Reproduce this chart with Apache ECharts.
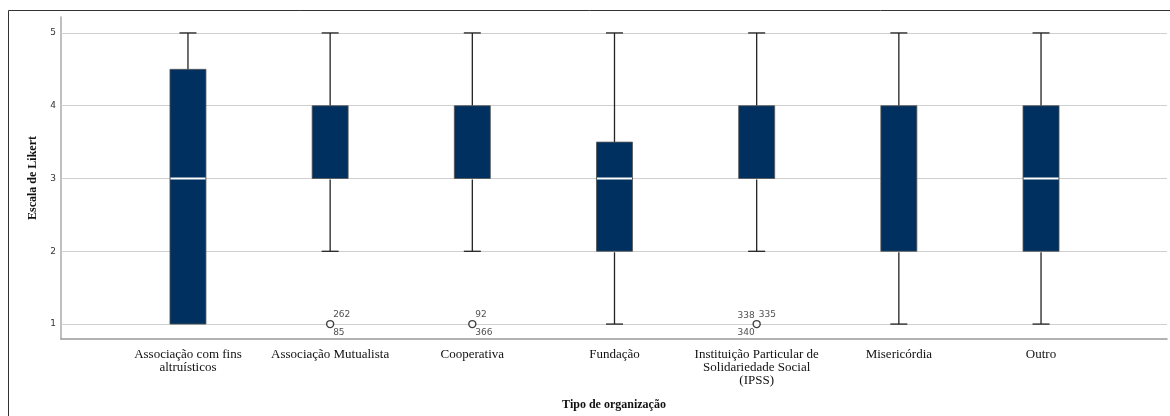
<!DOCTYPE html>
<html><head><meta charset="utf-8">
<script src="https://cdn.jsdelivr.net/npm/echarts@6/dist/echarts.min.js"></script>
<style>html,body{margin:0;padding:0;background:#fff}#c{width:1170px;height:416px}</style>
</head><body><div id="c"></div>
<script>
const categories = ['Associação com fins\naltruísticos','Associação Mutualista','Cooperativa','Fundação','Instituição Particular de\nSolidariedade Social\n(IPSS)','Misericórdia','Outro'];
// [min, Q1, median, Q3, max]
const boxMin    = [1, 2, 2, 1, 2, 1, 1];
const boxQ1     = [1, 3, 3, 2, 3, 2, 2];
const boxMedian = [3, 3, 4, 3, 3, 4, 3];
const boxQ3     = [4.5, 4, 4, 3.5, 4, 4, 4];
const boxMax    = [5, 5, 5, 5, 5, 5, 5];
const yTicks = [1, 2, 3, 4, 5];
// outliers: category index, value, case ids
const outlierCat = [1, 2, 4];
const outlierVal = [1, 1, 1];
const outlierIds = [['262','85'], ['92','366'], ['338','335','340']];

const boxData = categories.map((c, i) => [i, boxMin[i], boxQ1[i], boxMedian[i], boxQ3[i], boxMax[i]]);
const xIdx = categories.map((c, i) => i);

const slots2 = [{align:'left', off:[3,-9]}, {align:'left', off:[3,9]}];
const slots3 = [{align:'right', off:[-2,-8]}, {align:'left', off:[2,-9]}, {align:'right', off:[-2,9]}];
const labelData = [];
outlierCat.forEach((c, k) => {
  const ids = outlierIds[k];
  const slots = ids.length === 3 ? slots3 : slots2;
  ids.forEach((id, j) => {
    labelData.push({value:[c, outlierVal[k]], name:id,
      label:{formatter:id, align:slots[j].align, offset:slots[j].off}});
  });
});

const chart = echarts.init(document.getElementById('c'));
const serif = '"Liberation Serif","Times New Roman",serif';
chart.setOption({
  animation:false,
  graphic:[{type:'rect', shape:{x:8.5, y:10.5, width:1200, height:500}, style:{fill:'none', stroke:'#333', lineWidth:1}, z:-10}],
  grid:{left:61, right:3, top:17, bottom:76},
  xAxis:{type:'value', min:-0.893, max:6.886,
    axisLine:{show:true, onZero:false, lineStyle:{color:'#999', width:1.5}},
    axisTick:{show:false}, splitLine:{show:false},
    axisLabel:{customValues:xIdx, formatter:(v)=>categories[Math.round(v)]||'', color:'#111', fontFamily:serif, fontSize:13, lineHeight:13, margin:9},
    name:'Tipo de organização', nameLocation:'middle', nameGap:60,
    nameTextStyle:{fontFamily:serif, fontWeight:'bold', fontSize:12, color:'#111'}},
  yAxis:{type:'value', min:0.795, max:5.219,
    axisLine:{show:true, onZero:false, lineStyle:{color:'#aaa', width:1.5}},
    axisTick:{show:false}, splitLine:{show:false},
    axisLabel:{customValues:yTicks, color:'#333', fontFamily:'"DejaVu Sans",sans-serif', fontSize:9, margin:5},
    name:'Escala de Likert', nameLocation:'middle', nameGap:21, nameRotate:90,
    nameTextStyle:{fontFamily:serif, fontWeight:'bold', fontSize:12, color:'#111'}},
  series:[
    {type:'line', data:[], z:1,
      markLine:{silent:true, symbol:'none', label:{show:false}, animation:false, z:1,
        lineStyle:{color:'#cfcfcf', width:1, type:'solid'},
        data: yTicks.map(v => ({yAxis:v}))}},
    {type:'custom', data:boxData, encode:{x:0, y:[1,2,3,4,5]}, z:6,
      renderItem:function(params, api){
        const x = api.value(0);
        const mn = api.value(1), q1 = api.value(2), md = api.value(3), q3 = api.value(4), mx = api.value(5);
        const cx = api.coord([x, 0])[0];
        const y = v => api.coord([x, v])[1];
        const bw = 36, cw = 17;
        const wl = {stroke:'#222', lineWidth:1.3};
        const ch = [];
        if (mx > q3) {
          ch.push({type:'line', shape:{x1:cx, y1:y(mx), x2:cx, y2:y(q3)}, style:wl});
          ch.push({type:'line', shape:{x1:cx-cw/2, y1:y(mx), x2:cx+cw/2, y2:y(mx)}, style:wl});
        }
        if (mn < q1) {
          ch.push({type:'line', shape:{x1:cx, y1:y(q1)+1, x2:cx, y2:y(mn)}, style:wl});
          ch.push({type:'line', shape:{x1:cx-cw/2, y1:y(mn), x2:cx+cw/2, y2:y(mn)}, style:wl});
        }
        ch.push({type:'rect', shape:{x:cx-bw/2, y:y(q3), width:bw, height:y(q1)-y(q3)},
          style:{fill:'#00305f', stroke:'#555', lineWidth:0.8}});
        if (md > q1 && md < q3) {
          ch.push({type:'line', shape:{x1:cx-bw/2+0.5, y1:y(md), x2:cx+bw/2-0.5, y2:y(md)}, style:{stroke:'#fff', lineWidth:2}});
        }
        return {type:'group', children:ch};
      }},
    {type:'scatter', data:outlierCat.map((c,k)=>[c, outlierVal[k]]), symbol:'circle', symbolSize:7, z:7,
      itemStyle:{color:'#fff', borderColor:'#111', borderWidth:1.4}},
    {type:'scatter', data:labelData, symbolSize:0, z:8,
      label:{show:true, position:'inside', verticalAlign:'middle', color:'#222', fontFamily:'"DejaVu Sans",sans-serif', fontSize:9}}
  ]
});
</script></body></html>
